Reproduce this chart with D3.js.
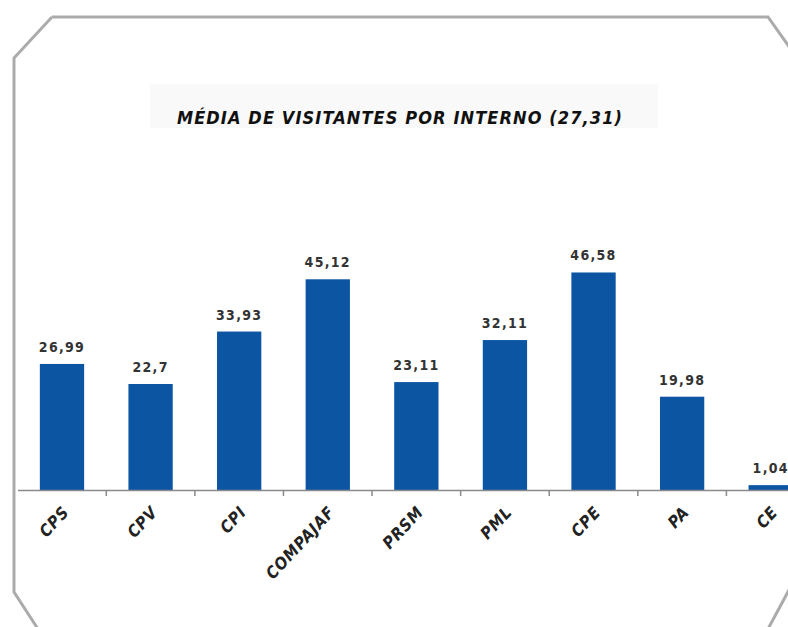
<!DOCTYPE html>
<html><head><meta charset="utf-8">
<script src="https://cdn.jsdelivr.net/npm/d3@7"></script>
<style>
html,body{margin:0;padding:0;background:#fff;}
svg{display:block;}
text{font-family:"Liberation Sans Narrow","DejaVu Sans Condensed","Open Sans",sans-serif;}
</style></head>
<body>
<svg id="chart" width="788" height="627"></svg>
<script>
const categories = ["CPS","CPV","CPI","COMPAJAF","PRSM","PML","CPE","PA","CE"];
const values = [26.99, 22.7, 33.93, 45.12, 23.11, 32.11, 46.58, 19.98, 1.04];
const valueLabels = ["26,99","22,7","33,93","45,12","23,11","32,11","46,58","19,98","1,04"];
const title = "MÉDIA DE VISITANTES POR INTERNO (27,31)";

const W = 788, H = 627;
const svg = d3.select("#chart");

// frame with chamfered corners
const frame = [[52,17],[768,17],[790,48],[790,588],[768,629],[38,629],[14,592],[14,58],[52,17]];
svg.append("path").attr("d", d3.line()(frame))
  .attr("fill","#fff").attr("stroke","#ababab").attr("stroke-width",3);

// title
svg.append("rect").attr("x",150).attr("y",84).attr("width",508).attr("height",44).attr("fill","#f9f9f9");
svg.append("text").attr("x",400).attr("y",124).attr("text-anchor","middle")
  .attr("font-size",18).attr("font-weight","bold").attr("font-style","italic").attr("fill","#111")
  .attr("letter-spacing",1.1)
  .text(title);

const x = d3.scaleBand().domain(categories).range([17.7, 815]).paddingInner(0.5).paddingOuter(0.25);
const y = d3.scaleLinear().domain([0, 50]).range([490, 256.5]);

const g = svg.append("g");
g.selectAll("rect.bar").data(categories).join("rect").attr("class","bar")
  .attr("x", d => x(d)).attr("width", x.bandwidth())
  .attr("y", (d,i) => y(values[i])).attr("height", (d,i) => y(0) - y(values[i]))
  .attr("fill","#0c55a3");

g.selectAll("text.val").data(categories).join("text").attr("class","val")
  .attr("x", d => x(d) + x.bandwidth()/2).attr("y", (d,i) => y(values[i]) - 12)
  .attr("text-anchor","middle").attr("font-size",14).attr("font-weight","bold").attr("fill","#333")
  .attr("letter-spacing",1.3)
  .text((d,i) => valueLabels[i]);

// axis baseline
svg.append("line").attr("x1",18).attr("x2",790).attr("y1",490.5).attr("y2",490.5)
  .attr("stroke","#8a8a8a").attr("stroke-width",1.5);
// ticks at band boundaries
const step = x.step();
const bounds = categories.slice(1).map(d => x(d) - (step - x.bandwidth())/2);
svg.selectAll("line.tick").data(bounds).join("line").attr("class","tick")
  .attr("x1", d => d).attr("x2", d => d).attr("y1",490).attr("y2",496)
  .attr("stroke","#8a8a8a").attr("stroke-width",1.5);

// category labels
svg.selectAll("text.cat").data(categories).join("text").attr("class","cat")
  .attr("transform", d => `translate(${x(d) + x.bandwidth()/2 + 8},${513}) rotate(-47)`)
  .attr("text-anchor","end").attr("font-size",16.5).attr("font-weight","bold").attr("font-style","italic")
  .attr("fill","#222").attr("letter-spacing",0.7)
  .text(d => d);
</script>
</body></html>
